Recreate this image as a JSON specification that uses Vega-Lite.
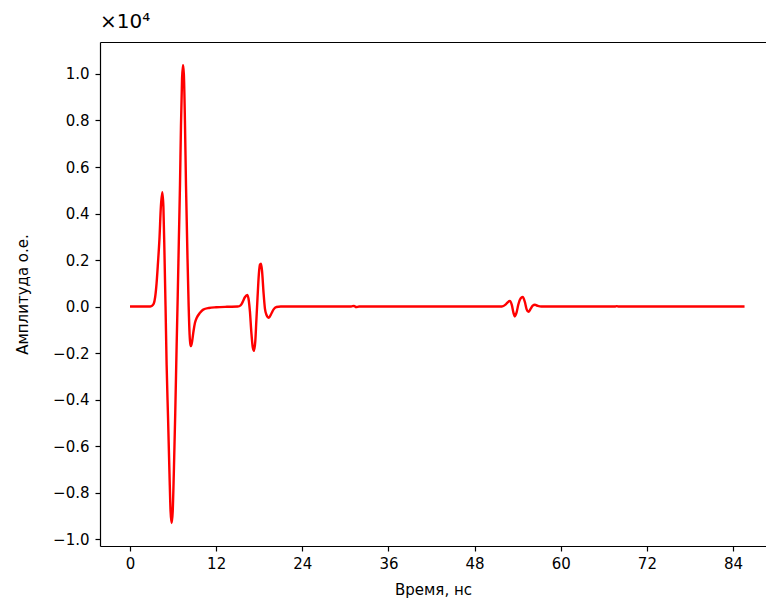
{
  "$schema": "https://vega.github.io/schema/vega-lite/v6.json",
  "autosize": {"type": "none"},
  "width": 666,
  "height": 504,
  "padding": {"left": 100, "top": 42, "right": 0, "bottom": 59},
  "title": {"text": "×10⁴", "anchor": "start", "frame": "group", "font": "DejaVu Sans", "fontSize": 20, "fontWeight": "normal", "color": "#000000", "offset": 10, "dx": 0},
  "config": {"view": {"stroke": null}, "font": "DejaVu Sans"},
  "data": {"values": [
    {"t": 0, "amp": 0}, {"t": 1, "amp": 0}, {"t": 2, "amp": 0}, {"t": 2.8, "amp": 0},
    {"t": 3.0, "amp": 20}, {"t": 3.3, "amp": 120}, {"t": 3.5, "amp": 400}, {"t": 3.7, "amp": 1000},
    {"t": 3.9, "amp": 1900}, {"t": 4.1, "amp": 2900}, {"t": 4.3, "amp": 4300}, {"t": 4.5, "amp": 4920},
    {"t": 4.65, "amp": 4300}, {"t": 4.8, "amp": 2300}, {"t": 4.95, "amp": 0}, {"t": 5.1, "amp": -2500},
    {"t": 5.3, "amp": -4800}, {"t": 5.5, "amp": -7200}, {"t": 5.65, "amp": -8800}, {"t": 5.8, "amp": -9310},
    {"t": 5.95, "amp": -8800}, {"t": 6.1, "amp": -7200}, {"t": 6.3, "amp": -4600}, {"t": 6.5, "amp": -1600},
    {"t": 6.65, "amp": 500}, {"t": 6.8, "amp": 2800}, {"t": 6.96, "amp": 5200}, {"t": 7.1, "amp": 7800},
    {"t": 7.25, "amp": 9800}, {"t": 7.38, "amp": 10390}, {"t": 7.5, "amp": 10000}, {"t": 7.65, "amp": 8000},
    {"t": 7.8, "amp": 5200}, {"t": 8.0, "amp": 2200}, {"t": 8.17, "amp": 0}, {"t": 8.3, "amp": -1200},
    {"t": 8.4, "amp": -1600}, {"t": 8.5, "amp": -1700}, {"t": 8.65, "amp": -1500}, {"t": 8.85, "amp": -1050},
    {"t": 9.05, "amp": -700}, {"t": 9.3, "amp": -480}, {"t": 9.75, "amp": -270}, {"t": 10.2, "amp": -130},
    {"t": 11.0, "amp": -60}, {"t": 12.0, "amp": -30}, {"t": 13.5, "amp": -10}, {"t": 15.0, "amp": 0},
    {"t": 15.4, "amp": 50}, {"t": 15.7, "amp": 200}, {"t": 16.0, "amp": 400}, {"t": 16.35, "amp": 500},
    {"t": 16.55, "amp": 250}, {"t": 16.7, "amp": -200}, {"t": 16.9, "amp": -1100}, {"t": 17.1, "amp": -1750},
    {"t": 17.27, "amp": -1900}, {"t": 17.45, "amp": -1500}, {"t": 17.6, "amp": -600}, {"t": 17.75, "amp": 300},
    {"t": 17.95, "amp": 1400}, {"t": 18.1, "amp": 1800}, {"t": 18.25, "amp": 1840}, {"t": 18.4, "amp": 1500},
    {"t": 18.6, "amp": 600}, {"t": 18.8, "amp": -100}, {"t": 19.0, "amp": -350}, {"t": 19.35, "amp": -480},
    {"t": 19.7, "amp": -300}, {"t": 20.0, "amp": -120}, {"t": 20.4, "amp": -20}, {"t": 21.0, "amp": 0},
    {"t": 25.0, "amp": 0}, {"t": 30.8, "amp": 0}, {"t": 31.2, "amp": 30}, {"t": 31.5, "amp": -20},
    {"t": 31.9, "amp": 0}, {"t": 40.0, "amp": 0}, {"t": 51.8, "amp": 0}, {"t": 52.3, "amp": 80},
    {"t": 52.6, "amp": 180}, {"t": 52.9, "amp": 240}, {"t": 53.2, "amp": 50}, {"t": 53.4, "amp": -250},
    {"t": 53.6, "amp": -420}, {"t": 53.85, "amp": -250}, {"t": 54.1, "amp": 100}, {"t": 54.4, "amp": 350},
    {"t": 54.7, "amp": 410}, {"t": 55.0, "amp": 200}, {"t": 55.25, "amp": -120}, {"t": 55.5, "amp": -230},
    {"t": 55.8, "amp": -100}, {"t": 56.1, "amp": 40}, {"t": 56.4, "amp": 80}, {"t": 56.8, "amp": 30},
    {"t": 57.3, "amp": 0}, {"t": 62.0, "amp": 0}, {"t": 67.5, "amp": 0}, {"t": 67.8, "amp": 20},
    {"t": 68.1, "amp": 0}, {"t": 75.0, "amp": 0}, {"t": 85.6, "amp": 0}
  ]},
  "layer": [
    {
      "mark": {"type": "line", "color": "#ff0000", "strokeWidth": 2.4, "interpolate": "monotone"},
      "encoding": {
        "x": {"field": "t", "type": "quantitative",
              "scale": {"domain": [-4.18, 88.59], "nice": false, "zero": false},
              "axis": {"values": [0, 12, 24, 36, 48, 60, 72, 84], "title": "Время, нс", "grid": false,
                       "domainColor": "#000000", "domainWidth": 1.2, "tickColor": "#000000", "tickSize": 5, "tickWidth": 1.2,
                       "labelColor": "#000000", "labelFontSize": 15, "labelPadding": 5, "titleFontSize": 15, "titleFontWeight": "normal",
                       "titleColor": "#000000", "titlePadding": 11, "labelFlush": false}},
        "y": {"field": "amp", "type": "quantitative",
              "scale": {"domain": [-10295, 11375], "nice": false, "zero": false},
              "axis": {"values": [-10000, -8000, -6000, -4000, -2000, 0, 2000, 4000, 6000, 8000, 10000],
                       "labelExpr": "replace(format(datum.value/10000, '.1f'), '-', '−')",
                       "title": "Амплитуда о.е.", "grid": false,
                       "domainColor": "#000000", "domainWidth": 1.2, "tickColor": "#000000", "tickSize": 5, "tickWidth": 1.2,
                       "labelColor": "#000000", "labelFontSize": 15, "labelPadding": 6, "titleFontSize": 15, "titleFontWeight": "normal",
                       "titleColor": "#000000", "titlePadding": 22, "labelFlush": false}}
      }
    },
    {
      "mark": {"type": "line", "opacity": 0},
      "encoding": {
        "x": {"field": "t", "type": "quantitative",
              "axis": {"orient": "top", "labels": false, "ticks": false, "title": null, "grid": false,
                       "domainColor": "#000000", "domainWidth": 1.2}},
        "y": {"field": "amp", "type": "quantitative"}
      }
    }
  ],
  "resolve": {"axis": {"x": "independent"}}
}
